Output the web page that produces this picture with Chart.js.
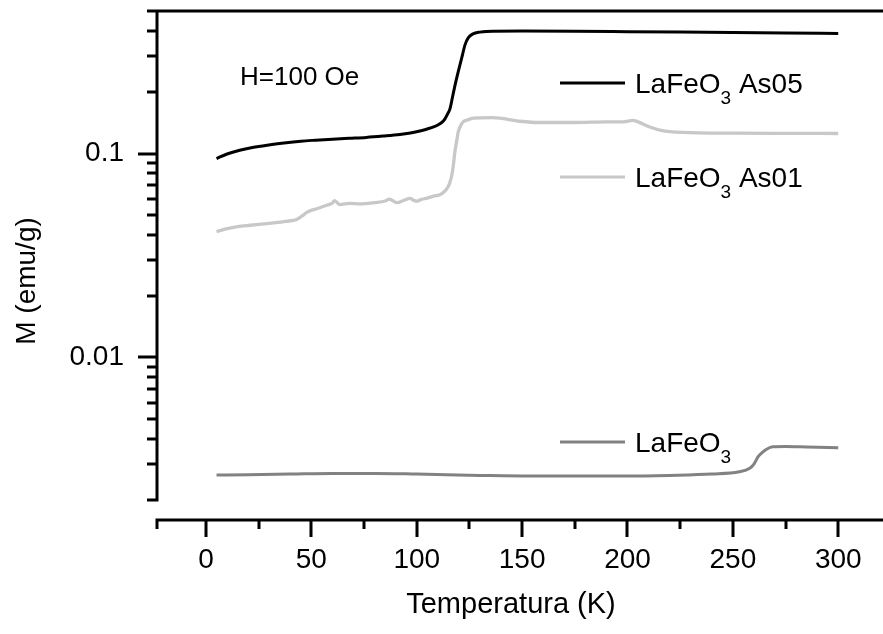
<!DOCTYPE html>
<html><head><meta charset="utf-8">
<script src="https://cdn.jsdelivr.net/npm/chart.js@4"></script>
<style>html,body{margin:0;padding:0;background:#fff}#wrap{width:883px;height:634px;position:relative}</style>
</head><body><div id="wrap"><canvas id="c"></canvas></div>
<script>
const FONT = '"Liberation Sans", Arial, Helvetica, sans-serif';

// ---- data ----
const tempAs05 = [5,10,16,22,29,37,45,52,60,68,76,84,92,97,101.5,105,108,110,112.2,113.4,114.6,115.8,117,118.2,119.4,120.5,121.7,122.9,124.5,126.7,130,133,150,175,200,225,250,275,300];
const mAs05 = [0.0945,0.0995,0.1038,0.107,0.1099,0.1127,0.115,0.1163,0.1176,0.1188,0.12,0.1218,0.124,0.1262,0.129,0.132,0.135,0.138,0.143,0.148,0.156,0.166,0.19,0.217,0.245,0.272,0.305,0.341,0.37,0.386,0.394,0.397,0.399,0.398,0.396,0.394,0.392,0.39,0.388];

const tempAs01 = [5,10,15,21,30,38,43,46,48,52.5,57,60,61,63.5,68,73,80,85,87,90.6,94,96.8,98.5,100,101.6,105,108,111,113,114.2,115.5,116.6,117.4,118.1,119,119.7,121,122,124,126.8,136,149,158,175,190,198,202.6,205,210.6,216,226,250,275,300];
const mAs01 = [0.0414,0.0428,0.0438,0.0445,0.0455,0.0465,0.0475,0.0497,0.0516,0.0536,0.0556,0.0572,0.0588,0.0562,0.057,0.0567,0.0575,0.0585,0.0598,0.0574,0.059,0.0603,0.059,0.0584,0.0593,0.0605,0.0618,0.0628,0.065,0.067,0.071,0.078,0.088,0.102,0.116,0.128,0.138,0.143,0.146,0.149,0.15,0.144,0.142,0.142,0.143,0.143,0.1455,0.143,0.135,0.13,0.127,0.1258,0.1255,0.1254];

const tempLa = [5,20,40,60,80,100,130,154,180,200,220,240,253,258,260,262,264,266,269,275,285,300];
const mLa = [0.00265,0.00266,0.00268,0.0027,0.0027,0.00268,0.00264,0.00262,0.00262,0.00262,0.00264,0.00268,0.00275,0.00286,0.003,0.00326,0.00342,0.00355,0.00365,0.00366,0.00364,0.00361];

const seriesLabels = ['LaFeO3 As05','LaFeO3 As01','LaFeO3'];
const legendMain = ['LaFeO','LaFeO','LaFeO'];
const legendSub = ['3','3','3'];
const legendSuffix = [' As05',' As01',''];

const xMajorTicks = [0,50,100,150,200,250,300];
const xMinorTicks = [25,75,125,175,225,275];
const yTickValues = [0.002,0.003,0.004,0.005,0.006,0.007,0.008,0.009,0.01,0.02,0.03,0.04,0.05,0.06,0.07,0.08,0.09,0.1,0.2,0.3,0.4,0.5];
const yLabelValues = [0.01,0.1];
const yLabelTexts = ['0.01','0.1'];
const xTitle = 'Temperatura (K)';
const yTitle = 'M (emu/g)';
const fieldNote = 'H=100 Oe';

const colors = ['#000000','#c8c8c8','#828282'];

function pts(t, m){ return t.map((v,i)=>({x:v,y:m[i]})); }

const originAxes = {
  id:'originAxes',
  afterDraw(chart){
    const {ctx, chartArea:a, scales:{x,y}} = chart;
    const W = chart.width;
    ctx.save();
    ctx.strokeStyle='#000'; ctx.lineWidth=3; ctx.lineCap='butt';
    ctx.beginPath();
    ctx.moveTo(a.left, a.top-1.5); ctx.lineTo(a.left, a.bottom+1.5);
    ctx.moveTo(a.left-10, a.top); ctx.lineTo(W, a.top);
    yTickValues.forEach(v=>{
      const py = Math.round(y.getPixelForValue(v));
      const major = yLabelValues.some(l=>Math.abs(l-v)<1e-12);
      const len = major ? 19 : 10;
      ctx.moveTo(a.left-len, py); ctx.lineTo(a.left, py);
    });
    const xb = a.bottom + 20;
    ctx.moveTo(a.left-1.5, xb); ctx.lineTo(W, xb);
    ctx.moveTo(a.left, xb); ctx.lineTo(a.left, xb+9);
    xMajorTicks.forEach(v=>{ const px=Math.round(x.getPixelForValue(v)); ctx.moveTo(px,xb); ctx.lineTo(px,xb+17); });
    xMinorTicks.forEach(v=>{ const px=Math.round(x.getPixelForValue(v)); ctx.moveTo(px,xb); ctx.lineTo(px,xb+9); });
    ctx.stroke();

    ctx.fillStyle='#000';
    ctx.save();
    ctx.translate(27, 281);
    ctx.rotate(-Math.PI/2);
    ctx.font = '28px '+FONT; ctx.textAlign='center'; ctx.textBaseline='middle';
    ctx.fillText(yTitle, 0, 0);
    ctx.restore();

    ctx.font = '26px '+FONT; ctx.textAlign='left'; ctx.textBaseline='alphabetic';
    ctx.fillText(fieldNote, 240, 85);

    const legY = [83, 177, 442];
    legY.forEach((ly,i)=>{
      ctx.strokeStyle = colors[i]; ctx.lineWidth=3;
      ctx.beginPath(); ctx.moveTo(560, ly); ctx.lineTo(625, ly); ctx.stroke();
      ctx.fillStyle='#000';
      const base = ly + 10;
      let tx = 635;
      ctx.font = '28px '+FONT;
      ctx.fillText(legendMain[i], tx, base); tx += ctx.measureText(legendMain[i]).width;
      ctx.font = '19px '+FONT;
      ctx.fillText(legendSub[i], tx, base+11); tx += ctx.measureText(legendSub[i]).width;
      ctx.font = '28px '+FONT;
      if (legendSuffix[i]) ctx.fillText(legendSuffix[i], tx, base);
    });
    ctx.restore();
  }
};

new Chart(document.getElementById('c'), {
  type:'line',
  data:{ datasets:[
    {label:seriesLabels[0], data:pts(tempAs05,mAs05), borderColor:colors[0], borderWidth:3, pointRadius:0, cubicInterpolationMode:'monotone', fill:false},
    {label:seriesLabels[1], data:pts(tempAs01,mAs01), borderColor:colors[1], borderWidth:3.3, pointRadius:0, cubicInterpolationMode:'monotone', fill:false},
    {label:seriesLabels[2], data:pts(tempLa,mLa), borderColor:colors[2], borderWidth:3, pointRadius:0, cubicInterpolationMode:'monotone', fill:false}
  ]},
  options:{
    responsive:true, maintainAspectRatio:false, animation:false,
    layout:{padding:{left:0,top:11,right:18,bottom:0}},
    plugins:{legend:{display:false}, tooltip:{enabled:false}},
    scales:{
      x:{ type:'linear', min:-23.25, max:312.7,
        grid:{drawOnChartArea:false, drawTicks:false}, border:{display:false},
        afterBuildTicks:s=>{ s.ticks = xMajorTicks.map(v=>({value:v})); },
        afterFit:s=>{ s.height = 134; s.paddingLeft = 0; s.paddingRight = 0; },
        ticks:{ autoSkip:false, maxRotation:0, padding:43, color:'#000', font:{family:FONT, size:28}, callback:v=>String(v) },
        title:{ display:true, text:xTitle, color:'#000', font:{family:FONT, size:29}, padding:{top:0,bottom:12} }
      },
      y:{ type:'logarithmic', min:0.002, max:0.5,
        grid:{drawOnChartArea:false, drawTicks:false}, border:{display:false},
        afterBuildTicks:s=>{ s.ticks = yTickValues.map(v=>({value:v})); },
        afterFit:s=>{ s.width = 157; s.paddingTop = 0; s.paddingBottom = 0; },
        ticks:{ autoSkip:false, padding:33, color:'#000', font:{family:FONT, size:28},
          callback:(v)=>{ const i = yLabelValues.findIndex(l=>Math.abs(l-v)<1e-12); return i>=0 ? yLabelTexts[i] : ''; } }
      }
    }
  },
  plugins:[originAxes]
});
</script></body></html>
